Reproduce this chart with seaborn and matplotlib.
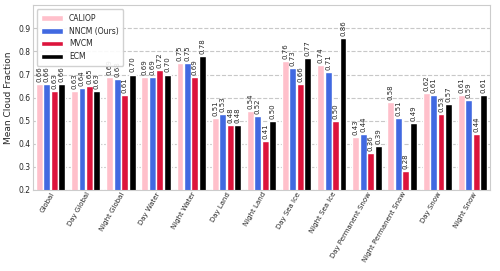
import pandas as pd
import matplotlib
matplotlib.use('Agg')
import matplotlib.pyplot as plt
import seaborn as sns

# categories and values
categories = ['Global', 'Day Global', 'Night Global', 'Day Water', 'Night Water',
              'Day Land', 'Night Land', 'Day Sea Ice', 'Night Sea Ice',
              'Day Permanent Snow', 'Night Permanent Snow', 'Day Snow', 'Night Snow']
caliop = [0.66, 0.63, 0.69, 0.69, 0.75, 0.51, 0.54, 0.76, 0.74, 0.43, 0.58, 0.62, 0.61]
nncm = [0.66, 0.64, 0.68, 0.69, 0.75, 0.53, 0.52, 0.73, 0.71, 0.44, 0.51, 0.61, 0.59]
mvcm = [0.63, 0.65, 0.61, 0.72, 0.69, 0.48, 0.41, 0.66, 0.50, 0.36, 0.28, 0.53, 0.44]
ecm = [0.66, 0.63, 0.70, 0.70, 0.78, 0.48, 0.50, 0.77, 0.86, 0.39, 0.49, 0.57, 0.61]
models = ['CALIOP', 'NNCM (Ours)', 'MVCM', 'ECM']
colors = ['pink', 'royalblue', 'crimson', 'black']

# build long-form table for seaborn
rows = []
for model, vals in zip(models, [caliop, nncm, mvcm, ecm]):
    for cat, v in zip(categories, vals):
        rows.append({'Category': cat, 'Model': model, 'Value': v})
df = pd.DataFrame(rows)

sns.set_style('whitegrid', {'grid.linestyle': '--', 'grid.color': '#c8c8c8',
                            'axes.edgecolor': '#cccccc'})
plt.rcParams['font.family'] = ['DejaVu Sans']

fig, ax = plt.subplots(figsize=(5, 2.71), dpi=100)
sns.barplot(data=df, x='Category', y='Value', hue='Model', palette=colors,
            saturation=1, width=0.85, gap=0.08, ax=ax)

for container in ax.containers:
    ax.bar_label(container, fmt='%.2f', rotation=90, fontsize=5, padding=1.5)

ax.set_ylim(0.2, 1.0)
ax.set_yticks([0.2, 0.3, 0.4, 0.5, 0.6, 0.7, 0.8, 0.9])
ax.tick_params(axis='y', labelsize=5.5, length=0, pad=2)
ax.tick_params(axis='x', labelsize=5, length=0, pad=1)
plt.setp(ax.get_xticklabels(), rotation=60, ha='right', rotation_mode='anchor')
ax.set_xlabel('')
ax.set_ylabel('Mean Cloud Fraction', fontsize=6.5)
ax.xaxis.grid(False)
ax.set_xlim(-0.5, len(categories) - 0.5)
ax.legend(loc='upper left', fontsize=5.5, frameon=True, framealpha=0.9,
          handlelength=2.8, borderpad=0.6, labelspacing=0.5)

plt.subplots_adjust(left=0.066, right=0.98, top=0.98, bottom=0.30)
plt.savefig('out.png', dpi=100)
